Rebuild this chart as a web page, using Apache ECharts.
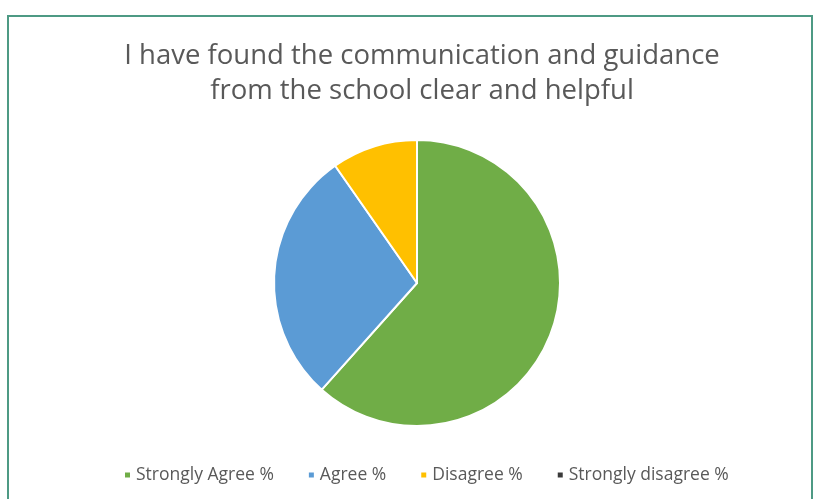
<!DOCTYPE html>
<html><head><meta charset="utf-8">
<script src="https://cdn.jsdelivr.net/npm/echarts@6/dist/echarts.min.js"></script>
<style>html,body{margin:0;padding:0;background:#fff}#c{width:816px;height:499px}</style>
</head><body><div id="c"></div>
<script>
const titleLines = ["I have found the communication and guidance", "from the school clear and helpful"];
const categories = ["Strongly Agree %", "Agree %", "Disagree %", "Strongly disagree %"];
const values = [61.6, 28.7, 9.7, 0];
const colors = ["#70AD47", "#5B9BD5", "#FFC000", "#3A3A3A"];

const chart = echarts.init(document.getElementById('c'), null, {renderer: 'canvas'});
chart.setOption({
  backgroundColor: '#ffffff',
  animation: false,
  graphic: [{
    type: 'rect', silent: true, z: -1,
    shape: {x: 8, y: 16, width: 804, height: 500},
    style: {fill: '#ffffff', stroke: '#4E9A84', lineWidth: 2}
  }],
  title: {
    text: titleLines.join('\n'),
    left: 417, top: 34,
    textAlign: 'center',
    textStyle: {fontFamily: 'Open Sans', fontSize: 27.5, fontWeight: 'normal', color: '#595959', lineHeight: 35}
  },
  color: colors,
  legend: {
    data: categories,
    top: 461, left: 118,
    icon: 'rect', itemWidth: 7, itemHeight: 7, itemGap: 33,
    textStyle: {fontFamily: 'Open Sans', fontSize: 17.5, color: '#595959'}
  },
  series: [{
    type: 'pie',
    center: [417, 283], radius: 143,
    startAngle: 90, clockwise: true,
    label: {show: false}, labelLine: {show: false},
    itemStyle: {borderColor: '#ffffff', borderWidth: 2},
    emphasis: {disabled: true},
    data: categories.map((c, i) => ({name: c, value: values[i]}))
  }]
});
</script></body></html>
